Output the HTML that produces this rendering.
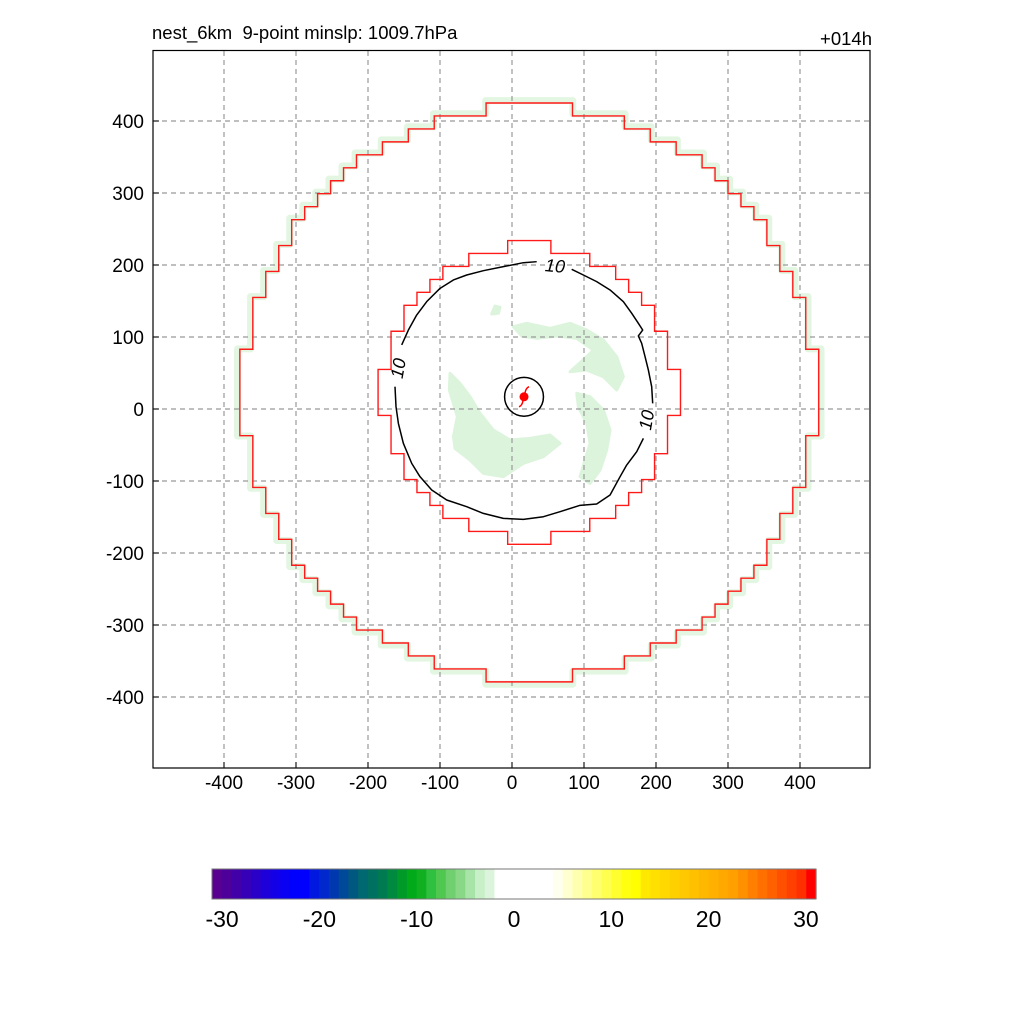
<!DOCTYPE html>
<html><head><meta charset="utf-8"><style>
html,body{margin:0;padding:0;background:#fff;}
svg{display:block;font-family:"Liberation Sans",sans-serif;}
</style></head><body>
<svg id="chart" width="1024" height="1024" viewBox="0 0 1024 1024" xmlns="http://www.w3.org/2000/svg">
<rect width="1024" height="1024" fill="#fff"/>
<text x="152" y="39" font-size="18.5" xml:space="preserve" style="white-space:pre">nest_6km  9-point minslp: 1009.7hPa</text>
<text x="872" y="45" font-size="18.5" text-anchor="end">+014h</text>
<clipPath id="clip"><rect x="153" y="50" width="717" height="718"/></clipPath>
<g id="fills" clip-path="url(#clip)"></g>
<g id="grid"></g>
<g id="marks" clip-path="url(#clip)"></g>
<rect x="153" y="50.5" width="717" height="717.5" fill="none" stroke="#000" stroke-width="1.2"/>
<g id="axes"></g>
<g id="colorbar"></g>
</svg>
<script>
const NS="http://www.w3.org/2000/svg";
// ---- data ----
const xTicks=[-400,-300,-200,-100,0,100,200,300,400];
const yTicks=[-400,-300,-200,-100,0,100,200,300,400];
const center=[24,23];
const outerQuadX=[-378,-378,-360,-360,-342,-342,-324,-324,-306,-306,-288,-288,-270,-270,-252,-252,-234,-234,-216,-216,-180,-180,-144,-144,-108,-108,-36,-36,24];
const outerQuadY=[23,83,83,155,155,191,191,227,227,263,263,281,281,299,299,317,317,335,335,353,353,371,371,389,389,407,407,425,425];
const innerQuadX=[-186,-186,-168,-168,-150,-150,-132,-132,-114,-114,-96,-96,-60,-60,-6,-6,24];
const innerQuadY=[24,55,55,108,108,144,144,162,162,180,180,198,198,216,216,234,234];
const contourX=[[34.3,15.8,-12,-39.8,-62.9,-81.4,-99.9,-118.5,-132.4,-143.9,-153.2],
 [-162.5,-161.1,-157.8,-150.9,-139.3,-127.8,-111.5,-90.7,-62.9,-39.8,-12,15.8,43.6,66.7,94.5,117.6,136.2,150.1,159.3,173.2,182.5],
 [195.4,194,189.4,184.8,180.1,175.5,181.5,175.5,166.3,154.7,136.2,117.6,99.1,82.9]];
const contourY=[[204.6,203.2,197.7,192.1,186.1,179.2,167.6,149.1,130.5,109.7,88.9],
 [31,3.2,-20,-47.7,-75.5,-94,-112.5,-126.4,-135.7,-145,-151.9,-153.3,-149.6,-142.6,-133.8,-132,-119.5,-94,-77.8,-59.3,-40.8],
 [7.8,31,54.1,72.7,91.2,101.4,109.7,119,132.9,149.1,165.3,176.9,186.1,194]];
const contourLabelX=[59.8,-157.8,187.1];
const contourLabelY=[198.6,56.5,-15.3];
const contourLabelRot=[5,-80,-80];
const patchX=[[-86.1,-72.2,-58.3,-44.4,-25.9,-2.7,25,52.8,66.7,43.6,15.8,-12,-39.8,-58.3,-79.1,-81.4,-75.9,-87],
 [1.9,20.4,52.8,80.6,103.8,126.9,145.4,154.7,145.4,126.9,103.8,80.6,103.8,113,89.9,62.1,34.3,13.5],
 [89.9,108.4,126.9,136.2,131.5,122.3,108.4,94.5,101.4,108.4,103.8,92.2],
 [-23.6,-16.6,-18.9,-28.2]];
const patchY=[[49.5,35.6,17.1,-6,-29.2,-43.1,-40.8,-36.1,-47.7,-66.2,-75.5,-94,-89.4,-70.9,-54.7,-38.5,-10.7,26.4],
 [114.3,119,112,119,109.7,95.8,72.7,44.9,26.4,44.9,54.1,51.8,72.7,81.9,98.1,101.4,98.1,101.4],
 [21.7,17.1,-1.4,-29.2,-57,-84.8,-103.3,-94,-70.9,-47.7,-20,3.2],
 [143,141.2,132.9,132]];
const stormX=16.7, stormY=17, eyeRadius=27;
const cbLabels=[-30,-20,-10,0,10,20,30];
const cbColors=["#5a0090","#4e009a","#4200a8","#3600b8","#2a00c8","#1e00d8","#1400e6","#0a00f2","#0000ff","#0000ff","#0018e0","#0028cc","#0038b0","#004898","#005880","#006870","#007060","#007a50","#008a40","#009a28","#00aa18","#10b020","#30c040","#50c850","#70d070","#88d888","#a8e4a8","#c8f0c8","#dcf4dc","#ffffff","#ffffff","#ffffff","#ffffff","#ffffff","#ffffff","#fffff0","#ffffd0","#ffffb0","#ffff90","#ffff70","#ffff50","#ffff30","#ffff10","#ffff00","#ffe800","#ffe000","#ffd800","#ffd000","#ffc800","#ffc000","#ffb800","#ffb000","#ffa800","#ffa000","#ff9000","#ff8000","#ff7000","#ff6000","#ff5000","#ff4000","#ff3000","#ff0000"];
// ---- axes ----
const sx=v=>512+v*0.72, sy=v=>409-v*0.72;
function el(tag,attrs,parent){const e=document.createElementNS(NS,tag);for(const k in attrs)e.setAttribute(k,attrs[k]);parent.appendChild(e);return e;}
function fullRing(qx,qy){
  const pts=[];
  for(let i=0;i<qx.length;i++)pts.push([qx[i],qy[i]]);
  for(let i=qx.length-1;i>=0;i--)pts.push([2*center[0]-qx[i],qy[i]]);
  for(let i=0;i<qx.length;i++)pts.push([2*center[0]-qx[i],2*center[1]-qy[i]]);
  for(let i=qx.length-1;i>=0;i--)pts.push([qx[i],2*center[1]-qy[i]]);
  return pts;
}
const fills=document.getElementById('fills'),grid=document.getElementById('grid'),marks=document.getElementById('marks'),axes=document.getElementById('axes'),cb=document.getElementById('colorbar');
const outer=fullRing(outerQuadX,outerQuadY), inner=fullRing(innerQuadX,innerQuadY);
const cxp=sx(center[0]),cyp=sy(center[1]);
const band=el('polygon',{points:outer.map(p=>((sx(p[0])-cxp)*1.008+cxp)+','+((sy(p[1])-cyp)*1.008+cyp)).join(' '),fill:'none',stroke:'#e2f6e2','stroke-width':7,'stroke-linejoin':'round'},fills);


patchX.forEach((px,k)=>{
  const p=el('polygon',{points:px.map((x,i)=>sx(x)+','+sy(patchY[k][i])).join(' '),fill:'#dcf4dc',stroke:'#dcf4dc','stroke-width':3,'stroke-linejoin':'round'},fills);
  
  
});
xTicks.forEach(v=>{
  const l=el('line',{x1:sx(v),x2:sx(v),y1:51,y2:768,stroke:'#999','stroke-dasharray':'5 4','stroke-width':1.2},grid);
  
  
  el('line',{x1:sx(v),x2:sx(v),y1:768,y2:762,stroke:'#000'},axes);
  const t=el('text',{x:sx(v),y:789,'font-size':19,'text-anchor':'middle'},axes);t.textContent=v;
  
  
});
yTicks.forEach(v=>{
  const l=el('line',{x1:153,x2:870,y1:sy(v),y2:sy(v),stroke:'#999','stroke-dasharray':'5 4','stroke-width':1.2},grid);
  
  
  el('line',{x1:153,x2:159,y1:sy(v),y2:sy(v),stroke:'#000'},axes);
  const t=el('text',{x:144,y:sy(v)+7,'font-size':19,'text-anchor':'end'},axes);t.textContent=v;
  
  
});
[outer,inner].forEach((r,k)=>{
  const p=el('polygon',{points:r.map(p=>sx(p[0])+','+sy(p[1])).join(' '),fill:'none',stroke:'#ff1a1a','stroke-width':1.4},marks);
  
  
});
contourX.forEach((cx,k)=>{
  const p=el('polyline',{points:cx.map((x,i)=>sx(x)+','+sy(contourY[k][i])).join(' '),fill:'none',stroke:'#000','stroke-width':1.5,'stroke-linejoin':'round'},marks);
  
  
});
contourLabelX.forEach((x,i)=>{
  const t=el('text',{x:sx(x),y:sy(contourLabelY[i]),'font-size':18,'font-style':'italic','text-anchor':'middle','dominant-baseline':'central',transform:`rotate(${contourLabelRot[i]} ${sx(x)} ${sy(contourLabelY[i])})`},marks);
  t.textContent='10';
  
  
});
const eye=el('circle',{cx:sx(stormX),cy:sy(stormY),r:eyeRadius*0.72,fill:'none',stroke:'#000','stroke-width':1.5},marks);


const sxp=sx(stormX),syp=sy(stormY);
const storm=el('g',{},marks);


el('circle',{cx:sxp,cy:syp,r:4.5,fill:'#ff0000'},storm);
el('path',{d:`M${sxp+1},${syp-4} Q${sxp+2},${syp-9} ${sxp+5},${syp-10} M${sxp-1},${syp+4} Q${sxp-2},${syp+9} ${sxp-5},${syp+10}`,fill:'none',stroke:'#ff0000','stroke-width':1.5},storm);
// ---- colorbar ----
const cbX0=212,cbX1=816,cbY=869,cbH=30,bw=(cbX1-cbX0)/cbColors.length;
cbColors.forEach((c,i)=>{
  const r=el('rect',{x:cbX0+i*bw,y:cbY,width:bw+0.6,height:cbH,fill:c},cb);
  
  
});
const fr=el('rect',{x:cbX0,y:cbY,width:cbX1-cbX0,height:cbH,fill:'none',stroke:'#777','stroke-width':1},cb);


cbLabels.forEach(v=>{
  const t=el('text',{x:514+v*9.73,y:927,'font-size':23,'text-anchor':'middle'},cb);t.textContent=v;
  
  
});
</script>
</body></html>
